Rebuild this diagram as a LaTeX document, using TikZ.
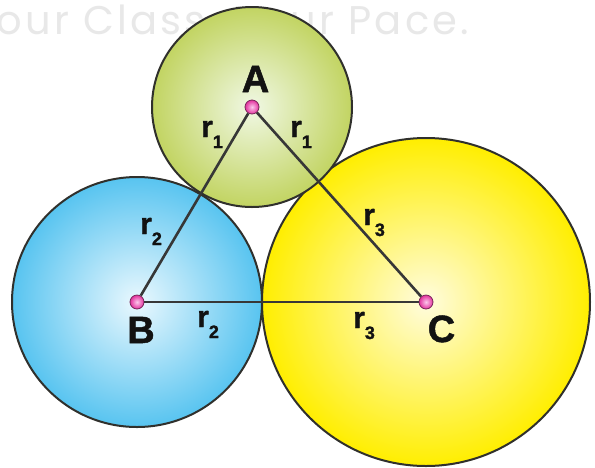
\documentclass[tikz,border=0pt]{standalone}
\usepackage{fontspec}
\setmainfont{Liberation Sans}
\newfontfamily\wmfont[LetterSpace=8]{Poppins}
\newfontfamily\heavy[BoldFeatures={FakeBold=1.3}]{Liberation Sans}
\definecolor{greenO}{RGB}{194,212,98}
\definecolor{greenI}{RGB}{240,248,228}
\definecolor{blueO}{RGB}{88,196,240}
\definecolor{blueI}{RGB}{234,248,254}
\definecolor{yellowO}{RGB}{255,238,0}
\definecolor{yellowI}{RGB}{255,252,222}
\definecolor{rimC}{RGB}{48,48,44}
\definecolor{segC}{RGB}{55,55,55}
\definecolor{dotO}{RGB}{226,48,156}
\definecolor{dotI}{RGB}{252,200,236}
\definecolor{dotRim}{RGB}{120,40,90}
\definecolor{wmC}{RGB}{232,232,232}
\definecolor{txtC}{RGB}{18,18,18}
\newcommand\rlab[1]{\heavy\fontsize{30}{30}\selectfont\bfseries r\raisebox{-11pt}{\fontsize{18}{18}\selectfont #1}}
\begin{document}
\begin{tikzpicture}[x=1pt,y=-1pt,
  disc/.style={draw=rimC,line width=2pt},
  seg/.style={draw=segC,line width=2.6pt},
  dotnode/.style={circle,minimum size=14pt,inner sep=0pt,draw=dotRim,line width=0.8pt,inner color=dotI,outer color=dotO},
  bigl/.style={inner sep=0pt,anchor=base,text=txtC,font=\heavy\fontsize{38}{38}\selectfont\bfseries},
  rl/.style={inner sep=0pt,anchor=base west,text=txtC},
  wm/.style={inner sep=0pt,anchor=base west,text=wmC,font=\wmfont\fontsize{40}{40}\selectfont}]
\useasboundingbox (0,0) rectangle (595,467);
\fill[white] (0,0) rectangle (595,467);
\node[wm] (wmark) at (-30,34) {Your Class. Your Pace.};
\coordinate (cA) at (252,107);
\coordinate (cB) at (137,302);
\coordinate (cC) at (426,302);
\path[disc,inner color=blueI,outer color=blueO] (cB) circle[radius=125];
\path[disc,inner color=yellowI,outer color=yellowO] (cC) circle[radius=164];
\path[disc,inner color=greenI,outer color=greenO] (cA) circle[radius=100];
\node[dotnode] (A) at (cA) {};
\node[dotnode] (B) at (cB) {};
\node[dotnode] (C) at (cC) {};
\draw[seg] (A) -- (B);
\draw[seg] (B) -- (C);
\draw[seg] (C) -- (A);
\node[bigl] (lA) at (255.5,92) {A};
\node[bigl] (lB) at (141,343) {B};
\node[bigl] (lC) at (441.5,342) {C};
\node[rl] (r1a) at (201,137) {\rlab{1}};
\node[rl] (r1b) at (290,137) {\rlab{1}};
\node[rl] (r2a) at (140,234) {\rlab{2}};
\node[rl] (r2b) at (197,327) {\rlab{2}};
\node[rl] (r3a) at (363,225) {\rlab{3}};
\node[rl] (r3b) at (353,328) {\rlab{3}};
\end{tikzpicture}
\end{document}
